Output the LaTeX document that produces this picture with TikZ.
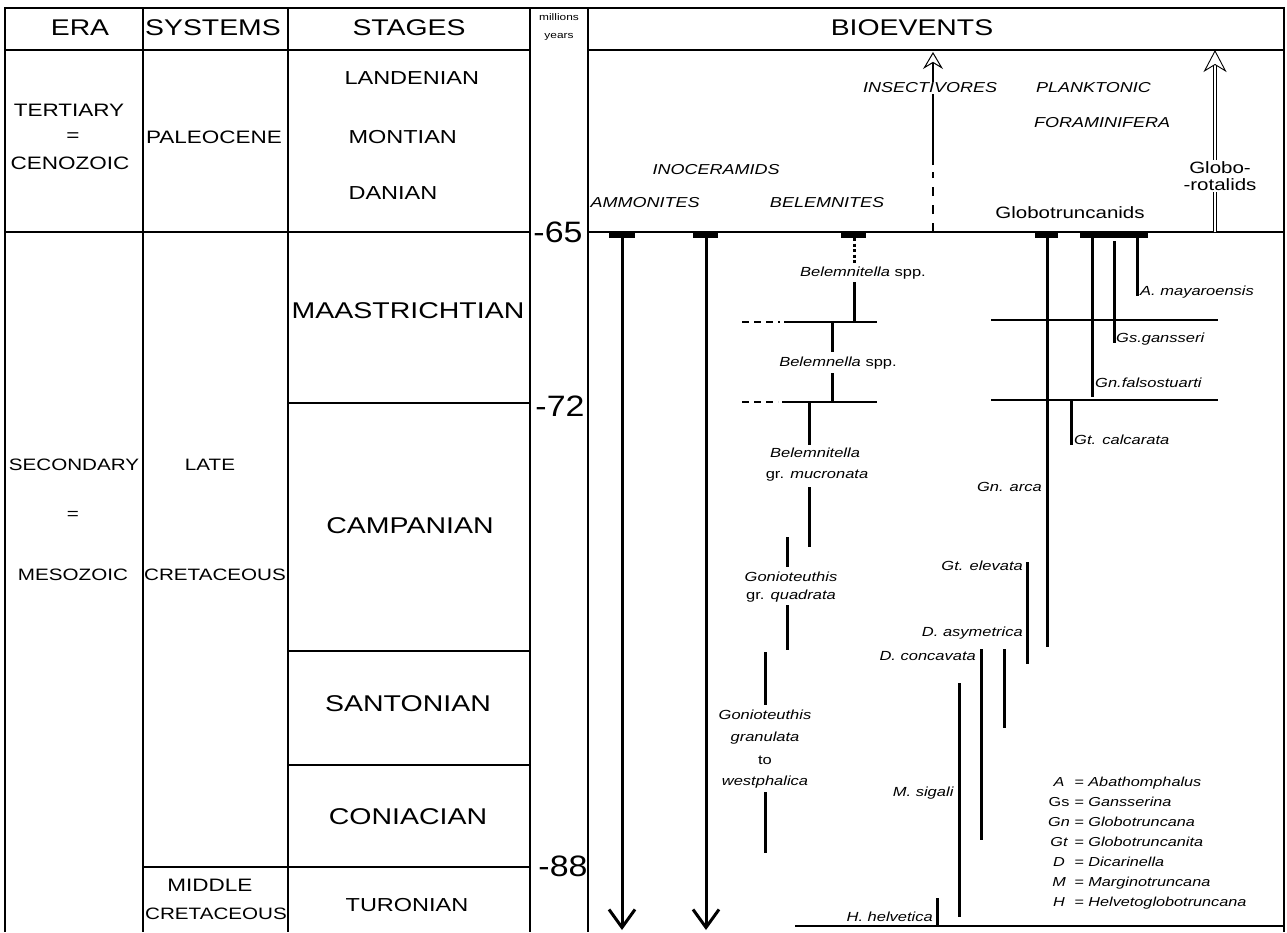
\documentclass[tikz,border=0pt]{standalone}
\usepackage{fontspec}
\setmainfont[FakeStretch=1.25]{Liberation Sans}
\newfontfamily\numfont[FakeStretch=1.15]{Liberation Sans}
\usetikzlibrary{arrows.meta}

\tikzset{
  frameline/.style={line width=1.3pt},
  rangeline/.style={line width=3pt},
  hdrtext/.style={font=\fontsize{22.7}{22.7}\selectfont},
  unittext/.style={font=\fontsize{16.5}{16.5}\selectfont},
  toptext/.style={font=\fontsize{18}{18}\selectfont},
  stagetext/.style={font=\fontsize{18.8}{18.8}\selectfont},
  bigstage/.style={font=\fontsize{22.8}{22.8}\selectfont},
  agenum/.style={font=\numfont\fontsize{29.5}{29.5}\selectfont, inner sep=0pt},
  grouplabel/.style={font=\itshape\fontsize{14.4}{14.4}\selectfont, inner sep=1pt},
  taxon/.style={font=\fontsize{13.2}{13.2}\selectfont, inner sep=1pt},
  lastbar/.style={fill=black},
}

\begin{document}
\begin{tikzpicture}[x=1pt, y=-1pt]
\useasboundingbox (0,0) rectangle (1287,932);

% frame and columns
\draw[frameline] (5,932) -- (5,8) -- (1284,8) -- (1284,932);
\draw[frameline] (5,50) -- (530,50);
\draw[frameline] (588,50) -- (1284,50);
\foreach \x in {143,288,530,588}
  \draw[frameline] (\x,8) -- (\x,932);
\draw[frameline] (5,232) -- (530,232);
\draw[frameline] (588,232) -- (1284,232);
\draw[frameline] (288,403) -- (530,403);
\draw[frameline] (288,651) -- (530,651);
\draw[frameline] (288,765) -- (530,765);
\draw[frameline] (143,867) -- (530,867);
\draw[frameline] (795,926) -- (1284,926);

% header
\node (era) [hdrtext] at (80,28) {ERA};
\node (sys) [hdrtext] at (213,28) {SYSTEMS};
\node (stg) [hdrtext] at (409,28) {STAGES};
\node (mil) [font=\fontsize{9.5}{9.5}\selectfont] at (559,17) {millions};
\node (yrs) [font=\fontsize{9.5}{9.5}\selectfont] at (559,37) {years};
\node (bio) [hdrtext] at (912,28) {BIOEVENTS};

% eras and systems
\node (ter) [toptext] at (69,110) {TERTIARY};
\node (tereq) [toptext] at (73,137) {=};
\node (ceno) [toptext] at (70,163) {CENOZOIC};
\node (paleo) [toptext] at (214,137) {PALEOCENE};
\node (sec) [unittext] at (74,465) {SECONDARY};
\node (seceq) [unittext] at (73,515) {=};
\node (meso) [unittext] at (73,575) {MESOZOIC};
\node (late) [unittext] at (210,465) {LATE};
\node (lcret) [unittext] at (215,575) {CRETACEOUS};
\node (mid) [toptext] at (210,885) {MIDDLE};
\node (mcret) [unittext] at (216,914) {CRETACEOUS};

% stages
\node (land) [stagetext, anchor=west] at (341,78) {LANDENIAN};
\node (mont) [stagetext, anchor=west] at (345,137) {MONTIAN};
\node (dan) [stagetext, anchor=west] at (345,193) {DANIAN};
\node (maas) [bigstage] at (408,311) {MAASTRICHTIAN};
\node (camp) [bigstage] at (410,526) {CAMPANIAN};
\node (sant) [bigstage] at (408,704) {SANTONIAN};
\node (coni) [bigstage] at (408,817) {CONIACIAN};
\node (turo) [stagetext] at (407,905) {TURONIAN};

% ages
\node (m65) [agenum] at (558,232) {-65};
\node (m72) [agenum] at (560,406) {-72};
\node (m88) [agenum] at (563,866) {-88};

% ammonites and inoceramids
\fill[lastbar] (609,232) rectangle (635,238);
\fill[lastbar] (693,232) rectangle (718,238);
\draw[rangeline, -{Straight Barb[length=18pt,width=26pt]}] (622,236) -- (622,930);
\draw[rangeline, -{Straight Barb[length=18pt,width=26pt]}] (706,236) -- (706,930);

% belemnites
\fill[lastbar] (841,232) rectangle (866,238);
\draw[rangeline, dash pattern=on 3pt off 2.5pt] (854,238) -- (854,264);
\draw[rangeline] (854,282) -- (854,322);
\draw[frameline, dash pattern=on 7pt off 5pt] (742,322) -- (780,322);
\draw[frameline] (784,322) -- (877,322);
\draw[rangeline] (832,322) -- (832,352);
\draw[rangeline] (832,373) -- (832,403);
\draw[frameline, dash pattern=on 7pt off 5pt] (742,402) -- (778,402);
\draw[frameline] (782,402) -- (877,402);
\draw[rangeline] (809,402) -- (809,445);
\draw[rangeline] (809,487) -- (809,547);
\draw[rangeline] (787,537) -- (787,567);
\draw[rangeline] (787,605) -- (787,650);
\draw[rangeline] (765,652) -- (765,705);
\draw[rangeline] (765,792) -- (765,853);

\node (belsp) [taxon] at (863,273) {\textit{Belemnitella} spp.};
\node (blnsp) [taxon] at (838,363) {\textit{Belemnella} spp.};
\node (muc1) [taxon] at (815,453) {\textit{Belemnitella}};
\node (muc2) [taxon] at (817,476) {gr. \textit{mucronata}};
\node (quad1) [taxon] at (791,577) {\textit{Gonioteuthis}};
\node (quad2) [taxon] at (791,596) {gr. \textit{quadrata}};
\node (gran1) [taxon] at (765,715) {\textit{Gonioteuthis}};
\node (gran2) [taxon] at (765,738) {\textit{granulata}};
\node (gran3) [taxon] at (765,760) {to};
\node (gran4) [taxon] at (765,782) {\textit{westphalica}};

% insectivores
\draw[line width=1.8pt, -{Stealth[open, length=17pt, width=20pt, inset=6pt, line width=1pt]}] (933,165) -- (933,52);
\draw[line width=1.8pt, dash pattern=on 9pt off 9pt] (933,232) -- (933,172);

% planktonic foraminifera
\draw[line width=0.9pt, double distance=2.6pt, -{Stealth[open, length=22pt, width=23pt, inset=7pt]}] (1215,232) -- (1215,50);
\fill[lastbar] (1035,232) rectangle (1058,238);
\fill[lastbar] (1080,232) rectangle (1148,238);
\draw[frameline] (991,320) -- (1218,320);
\draw[frameline] (991,400) -- (1218,400);
\draw[rangeline] (1047,236) -- (1047,647);
\draw[rangeline] (1092,236) -- (1092,397);
\draw[rangeline] (1114,241) -- (1114,343);
\draw[rangeline] (1137,236) -- (1137,296);
\draw[rangeline] (1071,400) -- (1071,445);
\draw[rangeline] (1027,562) -- (1027,664);
\draw[rangeline] (1004,649) -- (1004,728);
\draw[rangeline] (981,649) -- (981,840);
\draw[rangeline] (959,683) -- (959,917);
\draw[rangeline] (937,898) -- (937,926);

\node (maya) [taxon, anchor=west] at (1139,292) {\textit{A. mayaroensis}};
\node (gans) [taxon, anchor=west] at (1115,339) {\textit{Gs.gansseri}};
\node (fals) [taxon, anchor=west] at (1094,383) {\textit{Gn.falsostuarti}};
\node (calc) [taxon, anchor=west] at (1073,440) {\textit{Gt. calcarata}};
\node (arca) [taxon, anchor=east] at (1043,487) {\textit{Gn. arca}};
\node (elev) [taxon, anchor=east] at (1024,566) {\textit{Gt. elevata}};
\node (asym) [taxon, anchor=east] at (1024,633) {\textit{D. asymetrica}};
\node (conc) [taxon, anchor=east] at (977,656) {\textit{D. concavata}};
\node (siga) [taxon, anchor=east] at (955,793) {\textit{M. sigali}};
\node (helv) [taxon, anchor=east] at (934,917) {\textit{H. helvetica}};

% group labels
\node (amm) [grouplabel] at (645,203) {AMMONITES};
\node (ino) [grouplabel] at (716,170) {INOCERAMIDS};
\node (bel) [grouplabel] at (827,203) {BELEMNITES};
\node (ins) [grouplabel, fill=white] at (930,88) {INSECTIVORES};
\node (plk) [grouplabel, anchor=west] at (1035,88) {PLANKTONIC};
\node (fora) [grouplabel, anchor=west] at (1033,123) {FORAMINIFERA};
\node (gtr) [font=\fontsize{16.4}{16.4}\selectfont] at (1070,213) {Globotruncanids};
\node (grot) [font=\fontsize{16.4}{17}\selectfont, fill=white, inner sep=1pt, align=center] at (1220,176) {Globo-\\-rotalids};

% key
\node (key) [anchor=north west, inner sep=0pt, font=\itshape\fontsize{13}{20}\selectfont] at (1048,772)
  {\begin{tabular}{@{}c@{ = }l@{}}
   A & Abathomphalus\\
   \textup{Gs} & Gansserina\\
   Gn & Globotruncana\\
   Gt & Globotruncanita\\
   D & Dicarinella\\
   M & Marginotruncana\\
   H & Helvetoglobotruncana
   \end{tabular}};
\end{tikzpicture}
\end{document}
